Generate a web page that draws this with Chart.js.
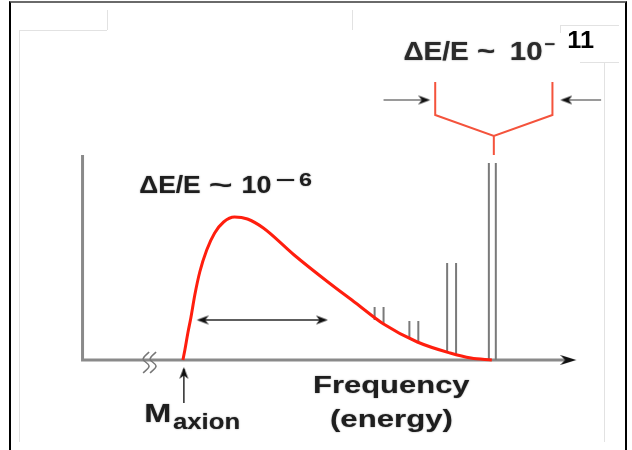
<!DOCTYPE html>
<html>
<head>
<meta charset="utf-8">
<script src="https://cdn.jsdelivr.net/npm/chart.js@4.4.1/dist/chart.umd.min.js"></script>
<style>
  html, body { margin: 0; padding: 0; background: #fff; }
  #wrap { position: relative; width: 632px; height: 450px; overflow: hidden; }
  #myChart { position: absolute; left: 0; top: 0; }
  .ln { position: absolute; background: #e2e2e2; }
</style>
</head>
<body>
<div id="wrap">
  <div style="position:absolute;left:9px;top:1px;width:614px;height:470px;border-left:2px solid #000;border-top:2px solid #6a6a6a;border-right:2px solid #000;"></div>
  <div class="ln" style="left:19px;top:30px;width:1px;height:412px;"></div>
  <div class="ln" style="left:19px;top:30px;width:88px;height:1px;"></div>
  <div class="ln" style="left:107px;top:10px;width:1px;height:20px;"></div>
  <div class="ln" style="left:352px;top:10px;width:1px;height:20px;"></div>
  <div class="ln" style="left:604px;top:62px;width:1px;height:380px;"></div>
  <div class="ln" style="left:560px;top:25px;width:59px;height:1px;"></div>
  <div class="ln" style="left:560px;top:25px;width:1px;height:8px;"></div>
  <div class="ln" style="left:580px;top:62px;width:39px;height:1px;"></div>
  <canvas id="myChart" width="632" height="450"></canvas>
</div>
<script>
// frequency in arbitrary units (0..100), power in arbitrary units
const spectrumX = [20.2, 20.6, 21.2, 21.8, 22.6, 23.6, 25, 26.6, 28.4, 30.6, 33.2, 36.4, 42.6, 49.4, 55, 60.6, 67.4, 74, 78.2, 82.4]
const spectrumY = [0, 5, 13.5, 21, 32.5, 44, 55, 63.5, 69, 71.5, 70.5, 66, 52.5, 39, 28.5, 18, 9, 3.5, 1, 0]

// narrow lines (pairs)
const lineX = [58.8, 60.6, 65.8, 67.6, 73.4, 75.2, 81.8, 83.2]
const lineTop = [26.5, 26.5, 19.5, 19.5, 48.5, 48.5, 98.5, 98.5]
const lineBase = [20, 18, 11, 9, 4, 3, 0, 0]

// red bracket over the tallest pair
const bracketX = [71, 71, 82.8, 94.6, 94.6]
const bracketY = [139, 122.5, 112, 122.5, 139]
const stemX = [82.8, 82.8]
const stemY = [112, 102.5]

const axisEndX = 98
const axisTopY = 102.5

function pts (xs, ys) {
    return xs.map((x, i) => ({x: x, y: ys[i]}))
}

function withGaps (segments) {
    let out = []
    for (let s of segments) {
        out = out.concat(s)
        out.push({x: s[0].x, y: null})
    }
    return out
}

function makeHead (len, half) {
    // tip sits in the middle of the canvas, so the point is the tip
    const c = document.createElement('canvas')
    c.width = len * 2
    c.height = half * 2 + 2
    const g = c.getContext('2d')
    const cy = c.height / 2
    g.fillStyle = '#111'
    g.beginPath()
    g.moveTo(len, cy)
    g.lineTo(0, cy - half)
    g.lineTo(len * 0.3, cy)
    g.lineTo(0, cy + half)
    g.closePath()
    g.fill()
    return c
}
const bigHead = makeHead(16, 5)
const smallHead = makeHead(12, 4.5)

const grayPairs = withGaps(lineX.map((x, i) => [{x: x, y: lineBase[i]}, {x: x, y: lineTop[i]}]))

const axes = withGaps([
    [{x: 0, y: axisTopY}, {x: 0, y: 0}, {x: axisEndX, y: 0}]
])

const squiggles = withGaps([
    pts([13.4, 12.2, 13.4, 12.2], [4, 0.5, -3, -6.5]),
    pts([14.8, 13.6, 14.8, 13.6], [4, 0.5, -3, -6.5])
])

const shaftsDark = withGaps([
    pts([24, 48.4], [20, 20]),
    pts([20.4, 20.4], [-21.5, -4.5])
])
const shaftsGray = withGaps([
    pts([60.6, 69], [130, 130]),
    pts([104.4, 97.2], [130, 130])
])

const headPoints = pts([99.4, 23, 49.4, 20.4, 70, 96.2], [0, 20, 20, -3.5, 130, 130])
const headRotation = [0, 180, 0, -90, 0, 180]
const headStyle = [bigHead, smallHead, smallHead, smallHead, smallHead, smallHead]

const bracket = withGaps([pts(bracketX, bracketY), pts(stemX, stemY)])

const textLabels = [
    {text: 'ΔE/E', x: 11.4, y: 83.5, size: 24, stretch: 1.1},
    {text: '~', x: 25.4, y: 83.5, size: 24, stretch: 1.7},
    {text: '10', x: 32, y: 83.5, size: 24, stretch: 1.12},
    {text: '−', x: 38.8, y: 87, size: 18, stretch: 1.9},
    {text: '6', x: 43.6, y: 87, size: 18, stretch: 1.3},
    {text: 'ΔE/E', x: 64.6, y: 150, size: 25, stretch: 1.12, color: '#2a2a2a'},
    {text: '~', x: 79.4, y: 150, size: 25, stretch: 1.25, color: '#2a2a2a'},
    {text: '10', x: 86, y: 150, size: 25, stretch: 1.18, color: '#2a2a2a'},
    {text: '−', x: 93, y: 155, size: 17, stretch: 1.1, color: '#2a2a2a'},
    {text: '11', x: 97.6, y: 156, size: 23, stretch: 1.1, color: '#000', crisp: true},
    {text: 'M', x: 12.4, y: -31, size: 25, stretch: 1.3},
    {text: 'axion', x: 18.2, y: -34.5, size: 22, stretch: 1.17},
    {text: 'Frequency', x: 46.4, y: -16.5, size: 24, stretch: 1.29},
    {text: '(energy)', x: 49.8, y: -33.5, size: 24, stretch: 1.3}
]

const textPlugin = {
    id: 'texts',
    afterDatasetsDraw (chart) {
        const ctx = chart.ctx
        const xs = chart.scales.x
        const ys = chart.scales.y
        for (let t of textLabels) {
            ctx.save()
            ctx.translate(xs.getPixelForValue(t.x), ys.getPixelForValue(t.y))
            ctx.scale(t.stretch, 1)
            ctx.font = 'bold ' + t.size + 'px "Liberation Sans", Arial, sans-serif'
            ctx.fillStyle = t.color || '#1e1e1e'
            if (!t.crisp) {
                ctx.shadowColor = 'rgba(40,40,40,0.6)'
                ctx.shadowBlur = 1.5
            }
            ctx.textBaseline = 'alphabetic'
            ctx.fillText(t.text, 0, 0)
            ctx.restore()
        }
    }
}

function lineSet (data, color, width, extra) {
    return Object.assign({
        data: data,
        showLine: true,
        borderColor: color,
        borderWidth: width,
        pointRadius: 0,
        fill: false,
        spanGaps: false,
        clip: false
    }, extra || {})
}

let chartContext = document.getElementById('myChart').getContext('2d')
const myChart = new Chart(chartContext, {
    type: 'scatter',
    data: {
        datasets: [
            lineSet(pts(spectrumX, spectrumY), '#ff1e0e', 3, {cubicInterpolationMode: 'monotone'}),
            {
                data: headPoints,
                pointStyle: headStyle,
                pointRotation: headRotation,
                pointRadius: 12,
                clip: false
            },
            lineSet(bracket, '#f4533c', 2),
            lineSet(grayPairs, '#7a7a7a', 2),
            lineSet(shaftsDark, '#2a2a2a', 1.5),
            lineSet(shaftsGray, '#9a9a9a', 2),
            lineSet(squiggles, '#777', 1.5, {tension: 0.4}),
            lineSet(axes, '#8a8a8a', 3)
        ]
    },
    plugins: [textPlugin],
    options: {
        responsive: false,
        animation: false,
        layout: {padding: {left: 10, right: 12, top: 20, bottom: 20}},
        plugins: {
            legend: {display: false},
            tooltip: {enabled: false}
        },
        scales: {
            x: {type: 'linear', min: -14, max: 108, display: false},
            y: {type: 'linear', min: -35, max: 170, display: false}
        }
    }
})
</script>
</body>
</html>
